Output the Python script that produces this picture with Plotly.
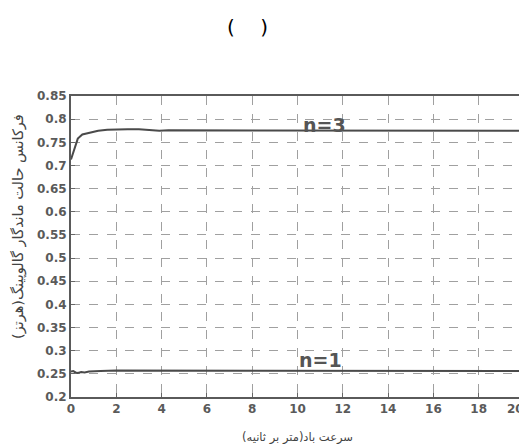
import plotly.graph_objects as go

wind_speed_n3 = [0, 0.15, 0.3, 0.5, 0.8, 1.2, 1.6, 2.0, 2.5, 3.0, 3.5, 3.9, 4.3, 5, 6, 8, 10, 12, 14, 16, 18, 20]
freq_n3 = [0.713, 0.735, 0.758, 0.767, 0.771, 0.775, 0.777, 0.778, 0.778, 0.778, 0.777, 0.775, 0.776, 0.776, 0.776, 0.776, 0.776, 0.776, 0.776, 0.776, 0.775, 0.775]

wind_speed_n1 = [0, 0.1, 0.2, 0.3, 0.45, 0.6, 0.8, 1.0, 1.3, 2, 4, 6, 8, 10, 12, 14, 16, 18, 20]
freq_n1 = [0.255, 0.256, 0.253, 0.252, 0.254, 0.253, 0.255, 0.256, 0.256, 0.257, 0.257, 0.257, 0.257, 0.256, 0.256, 0.256, 0.256, 0.256, 0.256]

x_ticks = [0, 2, 4, 6, 8, 10, 12, 14, 16, 18, 20]
x_tick_labels = ["0", "2", "4", "6", "8", "10", "12", "14", "16", "18", ""]  # "20" drawn at edge below
last_x_label = "20"
y_ticks = [0.2, 0.25, 0.3, 0.35, 0.4, 0.45, 0.5, 0.55, 0.6, 0.65, 0.7, 0.75, 0.8, 0.85]
y_tick_labels = ["0.2", "0.25", "0.3", "0.35", "0.4", "0.45", "0.5", "0.55", "0.6", "0.65", "0.7", "0.75", "0.8", "0.85"]

line_color = "#4a4a4a"
tick_font = dict(family="DejaVu Sans, sans-serif", size=12, color="#5a5a5a", weight="bold")
label_font = dict(family="DejaVu Sans, sans-serif", size=19, color="#555555", weight="bold")

# layout geometry (figure pixels)
W, H = 519, 439
ML, MR, MT, MB = 63, 3, 88, 50
PW, PH = W - ML - MR, H - MT - MB

fig = go.Figure()
fig.add_trace(go.Scatter(x=wind_speed_n3, y=freq_n3, mode="lines",
                         line=dict(color=line_color, width=2), showlegend=False))
fig.add_trace(go.Scatter(x=wind_speed_n1, y=freq_n1, mode="lines",
                         line=dict(color=line_color, width=2), showlegend=False))

axis_common = dict(showline=True, linecolor="#5a5a5a", linewidth=2, mirror=True,
                   showgrid=True, gridcolor="#a0a0a0", griddash="dash", gridwidth=1,
                   ticks="inside", ticklen=4, tickcolor="#666666", zeroline=False,
                   ticklabeloverflow="allow", tickfont=tick_font, automargin=False)

fig.update_xaxes(range=[0, 20], tickvals=x_ticks, ticktext=x_tick_labels, **axis_common,
                 title=dict(text="سرعت باد(متر بر ثانیه)", standoff=18,
                            font=dict(family="DejaVu Sans, Noto Sans", size=11.5, color="#444444")))
fig.update_yaxes(range=[0.2, 0.85], tickvals=y_ticks, ticktext=y_tick_labels, **axis_common)

# last x tick label, kept inside the page edge
fig.add_annotation(x=x_ticks[-1], xref="x", yref="paper", y=0, yanchor="top", yshift=-3,
                   xanchor="right", xshift=2, text=last_x_label, showarrow=False, font=tick_font)

# y-axis title placed as rotated annotation (offset upward as in the source)
fig.add_annotation(xref="paper", yref="paper", x=(18 - 71) / PW, y=1 - (227 - 96) / PH,
                   xanchor="center", yanchor="middle", textangle=-90,
                   text="فرکانس حالت ماندگار گالوپینگ(هرتز)", showarrow=False,
                   font=dict(family="DejaVu Sans, Noto Sans", size=14.5, color="#444444"))

fig.add_annotation(x=11.2, y=0.787, text="n=3", showarrow=False, font=label_font)
fig.add_annotation(x=11.0, y=0.279, text="n=1", showarrow=False, font=label_font)
fig.add_annotation(xref="paper", yref="paper", x=(247 - 71) / PW, y=1 + (96 - 27) / PH,
                   xanchor="center", yanchor="middle",
                   text="(    )", showarrow=False,
                   font=dict(family="DejaVu Sans", size=20, color="#000000"))

fig.update_layout(width=W, height=H, margin=dict(l=ML, r=MR, t=MT, b=MB),
                  paper_bgcolor="white", plot_bgcolor="white")
fig.write_html("out.html")
